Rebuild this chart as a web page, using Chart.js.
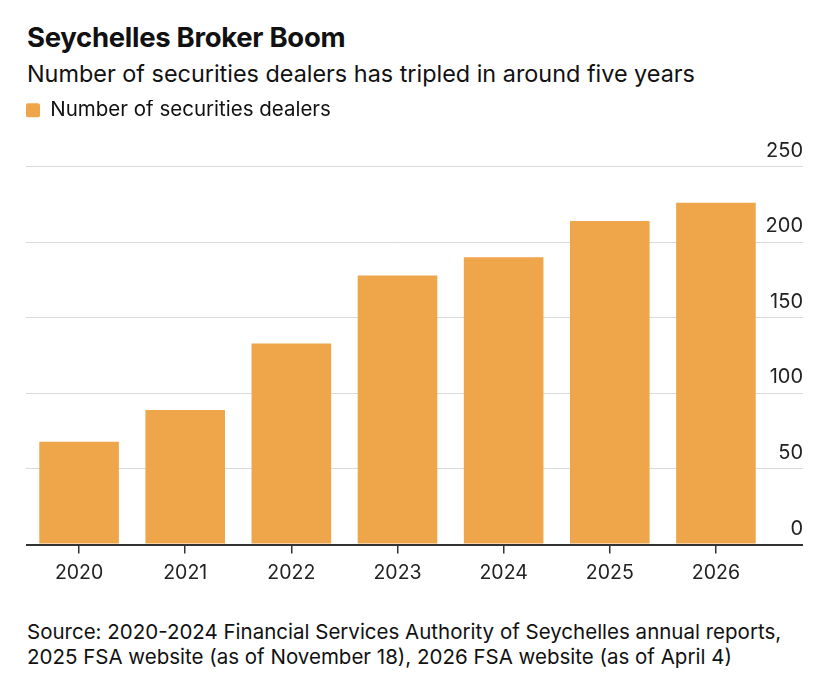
<!DOCTYPE html>
<html>
<head>
<meta charset="utf-8">
<script src="https://cdn.jsdelivr.net/npm/chart.js@4.4.1/dist/chart.umd.min.js"></script>
<style>
  html, body { margin: 0; padding: 0; background: #fff; }
  body { width: 828px; height: 682px; position: relative; overflow: hidden; font-family: "Inter", "Liberation Sans", sans-serif; color: #111; }
  #title { position: absolute; left: 27px; top: 20px; font-size: 27.5px; line-height: 34px; font-weight: 700; letter-spacing: -0.3px; }
  #subtitle { position: absolute; left: 27px; top: 60px; font-size: 23.4px; line-height: 28px; font-weight: 400; }
  #source { position: absolute; left: 27px; top: 619px; font-size: 20.5px; line-height: 25px; }
  #wrap { position: absolute; left: 0; top: 86px; width: 828px; height: 507px; }
</style>
</head>
<body>
<div id="title">Seychelles Broker Boom</div>
<div id="subtitle">Number of securities dealers has tripled in around five years</div>
<div id="wrap"><canvas id="c"></canvas></div>
<div id="source">Source: 2020-2024 Financial Services Authority of Seychelles annual reports,<br>2025 FSA website (as of November 18), 2026 FSA website (as of April 4)</div>
<script>
const categories = ["2020", "2021", "2022", "2023", "2024", "2025", "2026"];
const dealers = [68, 89, 133, 178, 190, 214, 226];
const seriesName = "Number of securities dealers";
const yMin = 0, yMax = 250, yStep = 50;

const FONT = "'Inter', 'Liberation Sans', sans-serif";
const ORANGE = "#EFA54A";
const LEGEND_EXTRA = 36;

const legendSpace = {
  id: "legendSpace",
  beforeLayout(chart) {
    const lg = chart.legend;
    if (lg && !lg._patchedFit) {
      const f = lg.fit;
      lg.fit = function () { f.call(this); this.height += LEGEND_EXTRA; };
      lg._patchedFit = true;
    }
  }
};

new Chart(document.getElementById("c"), {
  type: "bar",
  data: {
    labels: categories,
    datasets: [{
      label: seriesName,
      data: dealers,
      backgroundColor: ORANGE,
      borderWidth: 0,
      barPercentage: 0.75,
      categoryPercentage: 1.0
    }]
  },
  plugins: [legendSpace],
  options: {
    responsive: true,
    maintainAspectRatio: false,
    animation: false,
    layout: { padding: { left: 26, right: 25, top: 14, bottom: 0 } },
    plugins: {
      legend: {
        display: true,
        position: "top",
        align: "start",
        labels: {
          boxWidth: 14, boxHeight: 14, padding: 0,
          useBorderRadius: true, borderRadius: 2,
          color: "#111",
          font: { family: FONT, size: 20.5 }
        }
      },
      tooltip: { enabled: false }
    },
    scales: {
      x: {
        grid: { display: true, drawOnChartArea: false, drawTicks: true, tickLength: 9, color: "#333", lineWidth: 1.5, offset: false },
        border: { display: false },
        ticks: { padding: 8, color: "#222", font: { family: FONT, size: 19.5 } }
      },
      y: {
        position: "right",
        min: yMin, max: yMax,
        grid: {
          color: ctx => (ctx.tick && ctx.tick.value === 0) ? "#333" : "#d9d9d9",
          lineWidth: ctx => (ctx.tick && ctx.tick.value === 0) ? 2 : 1,
          drawTicks: true,
          tickLength: 34
        },
        border: { display: false },
        ticks: {
          stepSize: yStep,
          mirror: true,
          crossAlign: "near",
          padding: 34,
          labelOffset: -16,
          color: "#222",
          font: { family: FONT, size: 20 }
        },
        afterFit: s => { s.width = 34; }
      }
    }
  }
});
</script>
</body>
</html>
